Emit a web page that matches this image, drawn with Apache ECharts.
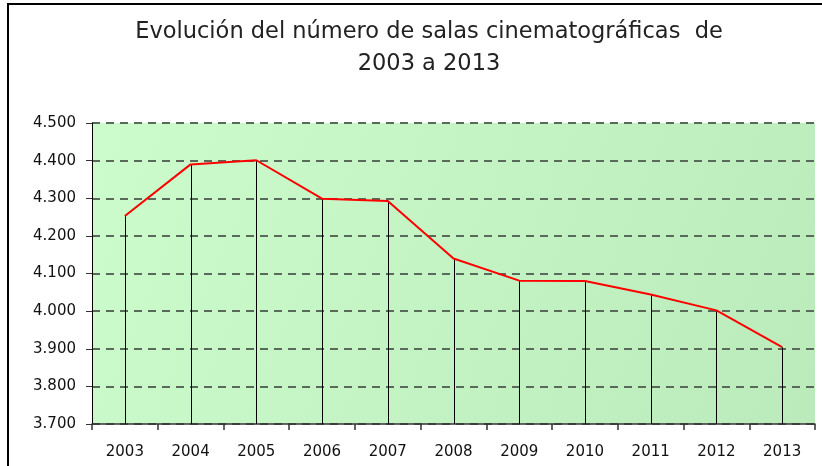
<!DOCTYPE html>
<html>
<head>
    <meta charset="utf-8">
    <title>Salas cinematográficas</title>
    <script src="https://cdn.jsdelivr.net/npm/echarts@6/dist/echarts.min.js"></script>
    <style>
        html, body { margin: 0; padding: 0; background: #fff; }
    </style>
</head>
<body>
<div id="main" style="width: 822px; height: 466px;"></div>
<script type="text/javascript">
    // years and number of cinema screens
    var years = ['2003', '2004', '2005', '2006', '2007', '2008', '2009', '2010', '2011', '2012', '2013'];
    var salas = [4253, 4390, 4401, 4299, 4293, 4140, 4081, 4080, 4044, 4002, 3904];
    var yMin = 3700, yMax = 4500, yStep = 100;

    // 4500 -> "4.500"
    function fmt(v) {
        var s = String(Math.round(v));
        return s.replace(/\B(?=(\d{3})+(?!\d))/g, '.');
    }

    var myChart = echarts.init(document.getElementById('main'));

    var option = {
        backgroundColor: '#fff',
        animation: false,
        graphic: [
            // chart frame (top and left edges visible, the rest is cut off)
            { type: 'rect', shape: { x: 8, y: 4, width: 830, height: 480 }, style: { fill: null, stroke: '#000', lineWidth: 2 }, silent: true },
            // title, centred on the full (cropped) chart frame
            {
                type: 'text',
                x: 429, y: 16,
                silent: true,
                style: {
                    text: 'Evolución del número de salas cinematográficas  de\n2003 a 2013',
                    align: 'center',
                    verticalAlign: 'top',
                    font: '22.5px "DejaVu Sans"',
                    lineHeight: 32,
                    fill: '#222'
                }
            }
        ],
        grid: {
            left: 92,
            right: 7,
            top: 123,
            bottom: 42,
            show: true,
            borderWidth: 0,
            backgroundColor: new echarts.graphic.LinearGradient(0, 0, 1, 1, [
                { offset: 0, color: '#ccfccc' },
                { offset: 1, color: '#bbebbb' }
            ])
        },
        xAxis: {
            type: 'category',
            data: years,
            boundaryGap: true,
            axisLine: { lineStyle: { color: '#333', width: 1.5 } },
            axisTick: { show: true, length: 6, lineStyle: { color: '#333', width: 1.5 } },
            axisLabel: {
                margin: 21,
                fontFamily: 'DejaVu Sans',
                fontSize: 15,
                color: '#111'
            }
        },
        yAxis: {
            type: 'value',
            min: yMin,
            max: yMax,
            interval: yStep,
            axisLine: { show: true, lineStyle: { color: '#000', width: 1 } },
            axisTick: { show: true, length: 6, lineStyle: { color: '#333', width: 1 } },
            axisLabel: {
                margin: 16,
                fontFamily: 'DejaVu Sans',
                fontSize: 15,
                color: '#111',
                formatter: fmt
            },
            splitLine: {
                show: true,
                lineStyle: { color: '#5a6a5a', width: 2, type: [8, 6] }
            }
        },
        series: [
            {
                // drop lines from each point down to the x axis
                name: 'drop',
                type: 'custom',
                data: salas.map(function (v, i) { return [i, v]; }),
                renderItem: function (params, api) {
                    var top = api.coord([api.value(0), api.value(1)]);
                    var base = api.coord([api.value(0), yMin]);
                    var x = Math.round(top[0]) + 0.5;
                    return {
                        type: 'line',
                        shape: { x1: x, y1: top[1], x2: x, y2: base[1] },
                        style: { stroke: '#000', lineWidth: 1 }
                    };
                },
                silent: true,
                z: 2
            },
            {
                name: 'Salas',
                type: 'line',
                data: salas,
                showSymbol: false,
                symbol: 'none',
                lineStyle: { color: '#ff0000', width: 2 },
                z: 3
            }
        ]
    };

    myChart.setOption(option);
</script>
</body>
</html>
